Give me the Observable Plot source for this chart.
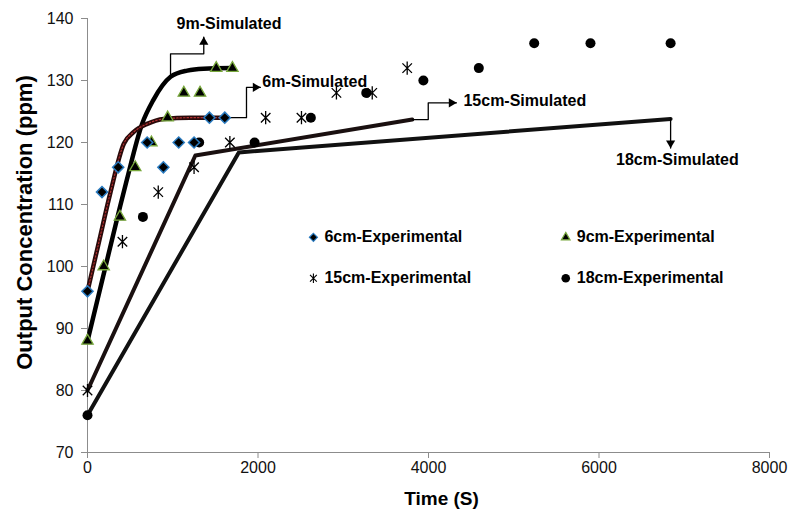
<!DOCTYPE html>
<html><head><meta charset="utf-8">
<script src="https://cdn.jsdelivr.net/npm/d3@7"></script>
<script src="https://cdn.jsdelivr.net/npm/@observablehq/plot@0.6"></script>
<style>
html,body{margin:0;padding:0;background:#fff;}
#chart svg{display:block;}
</style></head><body><div id="chart"></div>
<script>
// ---- experimental data (time in s, concentration in ppm) ----
const exp6Time  = [0, 170, 360, 700, 890, 1070, 1250, 1430, 1610];
const exp6Conc  = [96, 112, 116, 120, 116, 120, 120, 124, 124];
const exp9Time  = [0, 190, 380, 560, 750, 940, 1130, 1320, 1510, 1700];
const exp9Conc  = [88, 100, 108, 116, 120, 124, 128, 128, 132, 132];
const exp15Time = [0, 410, 830, 1250, 1670, 2090, 2510, 2920, 3340, 3750];
const exp15Conc = [80, 104, 112, 116, 120, 124, 124, 128, 128, 132];
const exp18Time = [0, 650, 1310, 1960, 2620, 3270, 3940, 4590, 5240, 5900, 6840];
const exp18Conc = [76, 108, 120, 120, 124, 128, 130, 132, 136, 136, 136];

// ---- simulated curves ----
const sim6Time  = [0, 135, 270, 426, 543, 700, 895, 1200, 1607];
const sim6Conc  = [96, 104, 112, 119.8, 121.7, 123, 123.8, 124, 124];
const sim9Time  = [0, 370, 460, 640, 770, 975, 1170, 1360, 1700];
const sim9Conc  = [88, 109, 113.9, 123, 126.8, 130.6, 131.6, 131.9, 132];
const sim15Time = [0, 1265, 3810];
const sim15Conc = [80, 117.9, 123.7];
const sim18Time = [0, 1775, 6840];
const sim18Conc = [76, 118.4, 123.8];

// ---- callouts (data units) ----
const simLabels   = ["9m-Simulated", "6m-Simulated", "15cm-Simulated", "18cm-Simulated"];
const simLabelT   = [1045, 2050, 4410, 6920];
const simLabelC   = [139.1, 129.7, 126.7, 117.2];
const call9T  = [974, 974, 1364, 1364];      const call9C  = [130.6, 134.3, 134.3, 137.0];
const call6T  = [1607, 1865, 1865, 2029];    const call6C  = [124, 124, 128.9, 128.9];
const call15T = [3810, 3997, 3997, 4328];    const call15C = [123.7, 123.7, 126.4, 126.4];
const call18T = [6840, 6840];                const call18C = [123.8, 119.1];

// ---- legend ----
const legendLabels = ["6cm-Experimental", "9cm-Experimental", "15cm-Experimental", "18cm-Experimental"];
const legendT = [2650, 5610, 2650, 5610];
const legendC = [104.7, 104.7, 98.1, 98.1];

// ---- axis ticks ----
const xTicks = [0, 2000, 4000, 6000, 8000];
const yTicks = [70, 80, 90, 100, 110, 120, 130, 140];

const pts = (t, c) => t.map((d, i) => ({t: d, c: c[i]}));
const star = {draw(ctx, size) {
  const r = Math.sqrt(size) * 0.62, d = r * 0.72;
  ctx.moveTo(0, -r); ctx.lineTo(0, r);
  ctx.moveTo(-d, -d); ctx.lineTo(d, d);
  ctx.moveTo(-d, d); ctx.lineTo(d, -d);
}};
const BLUE = "#2A7BC0", GREEN = "#78A83C";
const bold = {fontWeight: "bold", fontSize: 16, fill: "#000"};

const e6 = pts(exp6Time, exp6Conc), e9 = pts(exp9Time, exp9Conc),
      e15 = pts(exp15Time, exp15Conc), e18 = pts(exp18Time, exp18Conc);
const lg = legendLabels.map((l, i) => ({l, t: legendT[i], c: legendC[i]}));
const sl = simLabels.map((l, i) => ({l, t: simLabelT[i], c: simLabelC[i]}));

const chart = Plot.plot({
  width: 788, height: 514,
  marginLeft: 87, marginRight: 19, marginTop: 18, marginBottom: 62,
  style: {fontFamily: "'Liberation Sans', Arial, sans-serif", fontSize: "16px", background: "#fff", color: "#000"},
  x: {domain: [0, 8000]},
  y: {domain: [70, 140]},
  marks: [
    Plot.ruleX([0], {stroke: "#8c8c8c", strokeWidth: 1}),
    Plot.ruleY([70], {stroke: "#8c8c8c", strokeWidth: 1}),
    Plot.axisY({ticks: yTicks, tickSize: 6, tickPadding: 8, stroke: "#8c8c8c", fill: "#111", fontSize: 16, label: null}),
    Plot.axisX({ticks: xTicks, tickFormat: d3.format("d"), tickSize: 6, tickPadding: 3, stroke: "#8c8c8c", fill: "#111", fontSize: 16, label: null}),
    Plot.text(["Time (S)"], {frameAnchor: "bottom", textAnchor: "middle", dx: 13, dy: 52, fontSize: 19, fontWeight: "bold", fill: "#000"}),
    Plot.text(["Output Concentration (ppm)"], {frameAnchor: "left", textAnchor: "middle", rotate: -90, dx: -63, dy: -13, fontSize: 22, fontWeight: "bold", fill: "#000"}),

    // simulated lines
    Plot.line(pts(sim18Time, sim18Conc), {x: "t", y: "c", stroke: "#111", strokeWidth: 4}),
    Plot.line(pts(sim15Time, sim15Conc), {x: "t", y: "c", stroke: "#1a1010", strokeWidth: 4}),
    Plot.line(pts(sim9Time, sim9Conc), {x: "t", y: "c", curve: "monotone-x", stroke: "#000", strokeWidth: 4.5}),
    Plot.line(pts(sim6Time, sim6Conc), {x: "t", y: "c", curve: "monotone-x", stroke: "#2a0a0a", strokeWidth: 4.5}),
    Plot.line(pts(sim6Time, sim6Conc), {x: "t", y: "c", curve: "monotone-x", stroke: "#b03030", strokeWidth: 1.2, strokeDasharray: "1.5,2"}),

    // callout connectors
    Plot.line(pts(call9T, call9C), {x: "t", y: "c", stroke: "#000", strokeWidth: 1.3}),
    Plot.line(pts(call6T, call6C), {x: "t", y: "c", stroke: "#000", strokeWidth: 1.3}),
    Plot.line(pts(call15T, call15C), {x: "t", y: "c", stroke: "#000", strokeWidth: 1.3}),
    Plot.line(pts(call18T, call18C), {x: "t", y: "c", stroke: "#000", strokeWidth: 1.3}),
    Plot.dot([{t: call9T[3], c: call9C[3]}], {x: "t", y: "c", symbol: "triangle", r: 3.4, fill: "#000", stroke: "none", dy: 5}),
    Plot.dot([{t: call6T[3], c: call6C[3]}, {t: call15T[3], c: call15C[3]}], {x: "t", y: "c", symbol: "triangle", r: 3.4, fill: "#000", stroke: "none", rotate: 90, dx: -5}),
    Plot.dot([{t: call18T[1], c: call18C[1]}], {x: "t", y: "c", symbol: "triangle", r: 3.4, fill: "#000", stroke: "none", rotate: 180, dy: -5}),
    Plot.text(sl.slice(0, 3), {x: "t", y: "c", text: "l", textAnchor: "start", ...bold}),
    Plot.text(sl.slice(3), {x: "t", y: "c", text: "l", textAnchor: "middle", ...bold}),

    // experimental markers
    Plot.dot(e15, {x: "t", y: "c", symbol: star, r: 6, stroke: "#000", strokeWidth: 1.3, fill: "none"}),
    Plot.dot(e18, {x: "t", y: "c", symbol: "circle", r: 5, fill: "#000", stroke: "none"}),
    Plot.dot(e9, {x: "t", y: "c", symbol: "triangle", r: 4.2, fill: "#000", stroke: GREEN, strokeWidth: 1.3}),
    Plot.dot(e6, {x: "t", y: "c", symbol: "diamond2", r: 5, fill: "#000", stroke: BLUE, strokeWidth: 1.5}),

    // legend
    Plot.dot([lg[0]], {x: "t", y: "c", symbol: "diamond2", r: 3.6, fill: "#000", stroke: BLUE, strokeWidth: 1.2}),
    Plot.dot([lg[1]], {x: "t", y: "c", symbol: "triangle", r: 3.2, fill: "#000", stroke: GREEN, strokeWidth: 1.2}),
    Plot.dot([lg[2]], {x: "t", y: "c", symbol: star, r: 4.3, stroke: "#000", strokeWidth: 1.1, fill: "none"}),
    Plot.dot([lg[3]], {x: "t", y: "c", symbol: "circle", r: 4.3, fill: "#000", stroke: "none"}),
    Plot.text(lg, {x: "t", y: "c", text: "l", textAnchor: "start", dx: 11, ...bold})
  ]
});
document.getElementById("chart").append(chart);
</script></body></html>
